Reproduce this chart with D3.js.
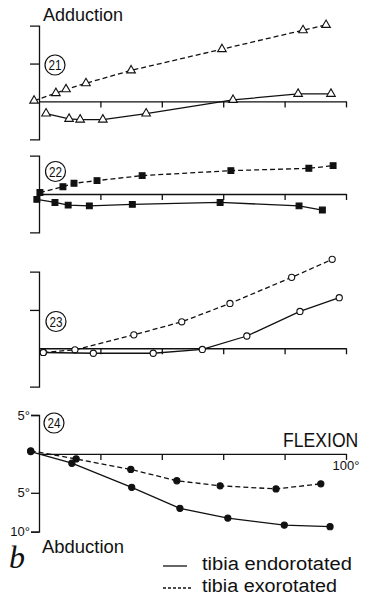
<!DOCTYPE html>
<html>
<head>
<meta charset="utf-8">
<script src="https://cdn.jsdelivr.net/npm/d3@7"></script>
<style>
  body { margin: 0; background: #fff; }
  text { font-family: "Liberation Sans", Arial, sans-serif; fill: #111; }
</style>
</head>
<body>
<div id="chart"></div>
<script>
// flexion angle (deg) on x, ab/adduction (deg) on y
var flexTicks = [20, 40, 60, 80, 100]

// panel 21 - triangles
var p21ExoX = [-1.6, 5.5, 8.8, 15.3, 30.0, 59.6, 86.0, 93.5]
var p21ExoY = [0.1, 1.1, 1.6, 2.4, 4.1, 6.9, 9.4, 10.1]
var p21EndoX = [2.3, 9.8, 13.4, 20.8, 34.9, 63.2, 84.4, 95.1]
var p21EndoY = [-1.6, -2.3, -2.4, -2.4, -1.6, 0.2, 1.0, 1.0]

// panel 22 - filled squares
var p22ExoX = [0.3, 7.8, 11.4, 18.9, 33.6, 62.5, 87.9, 95.8]
var p22ExoY = [0.2, 0.95, 1.4, 1.75, 2.4, 3.05, 3.35, 3.7]
var p22EndoX = [-0.7, 5.2, 9.5, 16.4, 30.4, 59.0, 84.7, 92.3]
var p22EndoY = [-0.7, -1.1, -1.45, -1.55, -1.35, -1.1, -1.55, -2.1]

// panel 23 - open circles
var p23ExoX = [1.4, 11.7, 30.9, 46.5, 62.2, 82.3, 95.5]
var p23ExoY = [-0.55, -0.2, 1.75, 3.45, 5.85, 9.25, 11.6]
var p23EndoX = [1.4, 17.7, 37.2, 53.2, 67.7, 85.0, 97.8]
var p23EndoY = [-0.55, -0.65, -0.65, -0.15, 1.6, 4.8, 6.6]

// panel 24 - filled circles
var p24ExoX = [-2.7, 12.1, 29.9, 44.9, 59.0, 77.2, 91.8]
var p24ExoY = [0.4, -0.65, -2.0, -3.45, -4.1, -4.5, -3.85]
var p24EndoX = [-2.7, 10.7, 30.2, 45.9, 61.5, 79.9, 94.8]
var p24EndoY = [0.3, -1.2, -4.3, -7.0, -8.25, -9.15, -9.35]

var p24TickVals = [5, -5, -10]
var p24TickLabels = ["5°", "5°", "10°"]

var svg = d3.select("#chart").append("svg")
  .attr("width", 366)
  .attr("height", 596)

var x = d3.scaleLinear().domain([0, 100]).range([39, 346])

function zip(X, Y) {
  var out = []
  for (var i = 0; i < X.length; i++) out.push([X[i], Y[i]])
  return out
}

function panel(opts) {
  var y = d3.scaleLinear().domain(opts.domain).range(opts.range)
  var g = svg.append("g")

  // y axis bracket
  var yAxis = d3.axisLeft(y)
    .tickValues(opts.yTicks)
    .tickSize(opts.tickLen)
    .tickSizeOuter(opts.tickLen)
    .tickFormat(opts.yLabels ? function(d, i) { return opts.yLabels[i] } : "")
    .tickPadding(1)
  var ya = g.append("g").attr("transform", "translate(" + x(0) + ",0)").call(yAxis)
  ya.selectAll("text").style("font-size", "13px").style("font-family", "'Liberation Sans', Arial, sans-serif")

  // x axis at zero
  var xAxis = d3.axisBottom(x).tickValues(flexTicks).tickSize(6).tickSizeOuter(0).tickFormat("")
  g.append("g").attr("transform", "translate(0," + y(0) + ")").call(xAxis)

  g.selectAll(".domain, .tick line").attr("stroke", "#111").attr("stroke-width", 1.3)

  var line = d3.line().x(function(d) { return x(d[0]) }).y(function(d) { return y(d[1]) })

  var series = [
    {data: zip(opts.exoX, opts.exoY), dash: "5,3"},
    {data: zip(opts.endoX, opts.endoY), dash: null}
  ]
  series.forEach(function(s) {
    g.append("path")
      .attr("d", line(s.data))
      .attr("fill", "none")
      .attr("stroke", "#111")
      .attr("stroke-width", 1.3)
      .attr("stroke-dasharray", s.dash)
    g.selectAll(null)
      .data(s.data)
      .enter().append("path")
      .attr("transform", function(d) { return "translate(" + x(d[0]) + "," + y(d[1]) + ")" })
      .attr("d", d3.symbol().type(opts.symbol).size(opts.symSize))
      .attr("fill", opts.filled ? "#111" : "#fff")
      .attr("stroke", "#111")
      .attr("stroke-width", 1.1)
  })

  // circled panel number
  g.append("circle").attr("cx", opts.num[1]).attr("cy", opts.num[2]).attr("r", 10)
    .attr("fill", "none").attr("stroke", "#111").attr("stroke-width", 1.2)
  g.append("text").attr("x", opts.num[1]).attr("y", opts.num[2] + 5)
    .attr("text-anchor", "middle").style("font-size", "14px")
    .attr("textLength", 13).attr("lengthAdjust", "spacingAndGlyphs")
    .text(opts.num[0])
  return y
}

panel({domain: [-5, 10], range: [139.3, 25.7], yTicks: [5], tickLen: 9,
  exoX: p21ExoX, exoY: p21ExoY, endoX: p21EndoX, endoY: p21EndoY,
  symbol: d3.symbolTriangle, symSize: 32, filled: false, num: ["21", 55, 65]})

panel({domain: [-5, 5], range: [232.3, 155.7], yTicks: [], tickLen: 9,
  exoX: p22ExoX, exoY: p22ExoY, endoX: p22EndoX, endoY: p22EndoY,
  symbol: d3.symbolSquare, symSize: 34, filled: true, num: ["22", 55.5, 171.5]})

panel({domain: [-5, 10], range: [386.6, 271.6], yTicks: [5], tickLen: 9,
  exoX: p23ExoX, exoY: p23ExoY, endoX: p23EndoX, endoY: p23EndoY,
  symbol: d3.symbolCircle, symSize: 30, filled: false, num: ["23", 56, 321.5]})

panel({domain: [-10, 5], range: [531.7, 415], yTicks: p24TickVals, yLabels: p24TickLabels, tickLen: 8,
  exoX: p24ExoX, exoY: p24ExoY, endoX: p24EndoX, endoY: p24EndoY,
  symbol: d3.symbolCircle, symSize: 30, filled: true, num: ["24", 54, 423]})

// texts
svg.append("text").attr("x", 43).attr("y", 21).style("font-size", "19px")
  .attr("textLength", 80).attr("lengthAdjust", "spacingAndGlyphs").text("Adduction")
svg.append("text").attr("x", 42).attr("y", 553).style("font-size", "19px")
  .attr("textLength", 82).attr("lengthAdjust", "spacingAndGlyphs").text("Abduction")
svg.append("text").attr("transform", "translate(283,447) scale(0.88,1)").style("font-size", "20px")
  .text("FLEXION")
svg.append("text").attr("x", 346).attr("y", 470).attr("text-anchor", "middle").style("font-size", "13px")
  .text("100°")
svg.append("text").attr("x", 9).attr("y", 568)
  .style("font-family", "'Liberation Serif', 'Times New Roman', serif")
  .style("font-style", "italic").style("font-size", "32px").text("b")

// legend
var legendItems = ["tibia endorotated", "tibia exorotated"]
var legendDash = [null, "3,2"]
var legendW = [150, 135]
legendItems.forEach(function(t, i) {
  var yy = 566 + i * 22
  svg.append("line").attr("x1", 163).attr("x2", 187 + i * 6).attr("y1", yy).attr("y2", yy)
    .attr("stroke", "#111").attr("stroke-width", 1.3).attr("stroke-dasharray", legendDash[i])
  svg.append("text").attr("x", 202).attr("y", yy + 4).style("font-size", "18px")
    .attr("textLength", legendW[i]).attr("lengthAdjust", "spacingAndGlyphs").text(t)
})
</script>
</body>
</html>
